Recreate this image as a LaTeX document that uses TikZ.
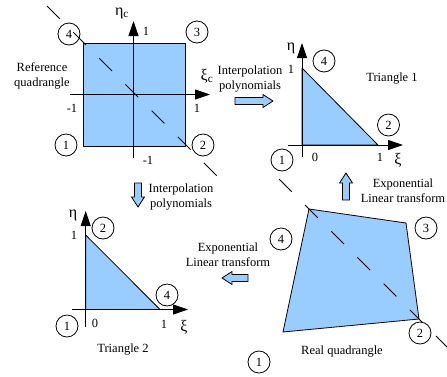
\documentclass[tikz,border=0pt]{standalone}
\usepackage{fontspec}
\setmainfont{Liberation Serif}
\usetikzlibrary{arrows.meta}

\definecolor{quadblue}{RGB}{153,204,255}

\tikzset{
  lbl/.style={font=\fontsize{12.5}{15}\selectfont, inner sep=0pt, align=center},
  glbl/.style={font=\fontsize{16}{18}\selectfont, inner sep=0pt},
  vnum/.style={circle, draw, line width=0.8pt, minimum size=22pt, inner sep=0pt,
               font=\fontsize{12.5}{15}\selectfont},
  axis/.style={line width=0.9pt, -{Triangle[length=15pt,width=10pt]}},
  diag/.style={line width=0.8pt, dash pattern=on 18pt off 19pt},
  elem/.style={fill=quadblue, draw=black, line width=0.8pt, line join=round},
  pics/blockarrow/.style={code={
    \draw[fill=quadblue, draw=black, line width=0.8pt]
      (-#1/2,-3.5) -- (#1/2-10,-3.5) -- (#1/2-10,-6.5) -- (#1/2,0)
      -- (#1/2-10,6.5) -- (#1/2-10,3.5) -- (-#1/2,3.5) -- cycle;
  }}
}

\begin{document}
\begin{tikzpicture}[x=1pt, y=-1pt]
    \useasboundingbox (0,0) rectangle (447,376);

    % ------------------------------------------------------------------
    % 1. Reference quadrangle
    % ------------------------------------------------------------------
    \draw[elem] (83,43) rectangle (185,146);
    \draw[axis] (133.5,158) -- (133.5,21);
    \draw[axis] (70,94.5) -- (210,94.5);
    \draw[diag] (47,6) -- (220,179);

    \node[glbl] (etac) at (122,13) {η\textsubscript{c}};
    \node[glbl] (xic)  at (207,76) {ξ\textsubscript{c}};
    \node[lbl] (rtop) at (146,31) {1};
    \node[lbl] (rlft) at (72,108) {-1};
    \node[lbl] (rrgt) at (197,108) {1};
    \node[lbl] (rbot) at (148,160) {-1};
    \node[lbl] (refq) at (42,75.5) {Reference\\quadrangle};

    \node[vnum] (r1) at (66,145) {1};
    \node[vnum] (r2) at (203,145) {2};
    \node[vnum] (r3) at (197,32) {3};
    \node[vnum] (r4) at (69,34) {4};

    % ------------------------------------------------------------------
    % 2. Triangle 1
    % ------------------------------------------------------------------
    \draw[elem] (302,145) -- (302,68) -- (378,145) -- cycle;
    \draw[axis] (302,157) -- (302,43);
    \draw[axis] (288,145) -- (403,145);

    \node[glbl] (etaa) at (291,48) {η};
    \node[glbl] (xia)  at (398,160) {ξ};
    \node[lbl] (aone) at (291,69) {1};
    \node[lbl] (azro) at (315,157) {0};
    \node[lbl] (aend) at (380,157) {1};
    \node[lbl] (tria) at (392,79) {Triangle 1};

    \node[vnum] (a1) at (282,160) {1};
    \node[vnum] (a2) at (388.5,125) {2};
    \node[vnum] (a4) at (324,61) {4};

    % ------------------------------------------------------------------
    % 3. Triangle 2
    % ------------------------------------------------------------------
    \draw[elem] (85.7,309.5) -- (85.7,235) -- (160,309.5) -- cycle;
    \draw[axis] (85.7,327) -- (85.7,211);
    \draw[axis] (72,309.5) -- (188,309.5);

    \node[glbl] (etab) at (73,215) {η};
    \node[glbl] (xib)  at (184,327) {ξ};
    \node[lbl] (bone) at (74,235) {1};
    \node[lbl] (bzro) at (95,323) {0};
    \node[lbl] (bend) at (164,324) {1};
    \node[lbl] (trib) at (123,350) {Triangle 2};

    \node[vnum] (b1) at (67,326) {1};
    \node[vnum] (b2) at (103,228) {2};
    \node[vnum] (b4) at (167,295) {4};

    % ------------------------------------------------------------------
    % 4. Real quadrangle
    % ------------------------------------------------------------------
    \draw[elem] (283,332) -- (309,209) -- (406,223) -- (419,319) -- cycle;
    \draw[diag] (279,179) -- (447,347);

    \node[lbl] (realq) at (342,352) {Real quadrangle};

    \node[vnum] (q1) at (259,362) {1};
    \node[vnum] (q2) at (420,333) {2};
    \node[vnum] (q3) at (426,228) {3};
    \node[vnum] (q4) at (281,239) {4};

    % ------------------------------------------------------------------
    % 5. Mapping arrows and their texts
    % ------------------------------------------------------------------
    \pic at (254,101) {blockarrow=38};
    \node[lbl] (interpa) at (250,79.5) {Interpolation\\polynomials};

    \pic[rotate=-90] at (138,195) {blockarrow=24};
    \node[lbl] (interpb) at (181,197) {Interpolation\\polynomials};

    \pic[rotate=90] at (346,186.5) {blockarrow=27};
    \node[lbl] (expa) at (403,191) {Exponential\\Linear transform};

    \pic[rotate=180] at (235,278) {blockarrow=26};
    \node[lbl] (expb) at (228,255) {Exponential\\Linear transform};

\end{tikzpicture}
\end{document}
